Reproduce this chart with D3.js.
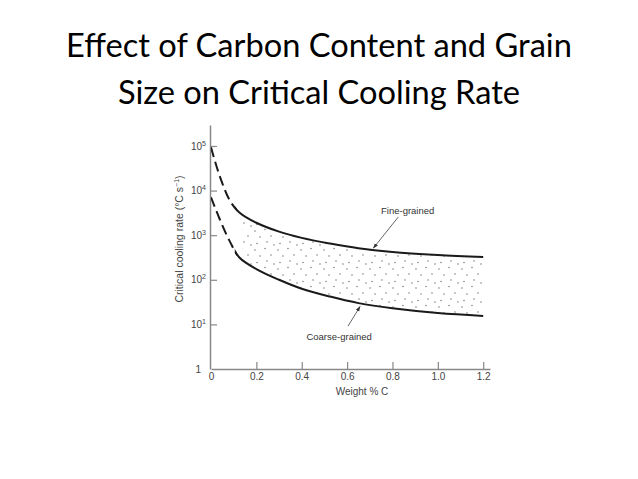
<!DOCTYPE html>
<html>
<head>
<meta charset="utf-8">
<script src="https://cdn.jsdelivr.net/npm/d3@7"></script>
<style>
  html, body { margin: 0; padding: 0; background: #fff; }
  svg { display: block; }
</style>
</head>
<body>
<div id="chart"></div>
<script>
// carbon content (weight % C) and critical cooling rate (deg C per s)
var carbon = [0, 0.04, 0.085, 0.125, 0.2, 0.3, 0.4, 0.525, 0.65, 0.8, 1.0, 1.2];
var fineRate = [93000, 20000, 5750, 3240, 1900, 1200, 870, 650, 510, 420, 360, 325];
var coarseRate = [7080, 2190, 690, 316, 174, 100, 63, 42, 30, 23, 18, 15.5];
var xTicks = [0, 0.2, 0.4, 0.6, 0.8, 1.0, 1.2];
var yTicks = [1, 10, 100, 1000, 10000, 100000];
var titleLines = ["Effect of Carbon Content and Grain", "Size on Critical Cooling Rate"];

(function () {
    var W = 638, H = 479;
    var dashedUntil = 0.105;  // curves are dashed (extrapolated) below this carbon content
    var stippleFrom = 0.14;

    var svg = d3.select("#chart").append("svg")
        .attr("width", W)
        .attr("height", H);

    //region title
    var title = svg.append("g")
        .attr("font-family", "Lato, 'Open Sans', sans-serif")
        .attr("fill", "#000")
        .attr("text-anchor", "middle");
    var t = title.selectAll("text")
        .data(titleLines)
        .enter().append("text")
        .attr("x", 319)
        .attr("y", function (d, i) { return 57 + i * 47; })
        .attr("font-size", 34)
        .text(function (d) { return d; });
    var w0 = t.node().getComputedTextLength();
    t.attr("font-size", 34 * 506 / w0);
    //endregion

    var x = d3.scaleLinear().domain([0, 1.23]).range([211, 490]);
    var y = d3.scaleLog().domain([1, Math.pow(10, 5.47)]).range([369, 125]);
    var curve = d3.curveCatmullRom.alpha(0.5);

    var defs = svg.append("defs");
    var pat = defs.append("pattern")
        .attr("id", "stipple")
        .attr("patternUnits", "userSpaceOnUse")
        .attr("width", 23)
        .attr("height", 19);
    [[2, 3], [12, 1.5], [7, 9], [18, 8], [4, 15.5], [14, 14], [21, 17]].forEach(function (p) {
        pat.append("circle")
            .attr("cx", p[0]).attr("cy", p[1]).attr("r", 0.7)
            .attr("fill", "#666");
    });

    var clip = function (id, x0, x1) {
        defs.append("clipPath").attr("id", id)
            .append("rect")
            .attr("x", x(x0)).attr("y", 0)
            .attr("width", x(x1) - x(x0) + 2).attr("height", H);
    };
    clip("clipDash", 0, dashedUntil);
    clip("clipSolid", dashedUntil, 1.2);
    clip("clipBand", stippleFrom, 1.2);

    var pts = function (vals) {
        return carbon.map(function (c, i) { return [c, vals[i]]; });
    };

    // stippled band between the two curves
    var area = d3.area()
        .x(function (d, i) { return x(carbon[i]); })
        .y0(function (d, i) { return y(coarseRate[i]); })
        .y1(function (d, i) { return y(fineRate[i]); })
        .curve(curve);
    svg.append("path")
        .datum(carbon)
        .attr("d", area)
        .attr("fill", "url(#stipple)")
        .attr("clip-path", "url(#clipBand)");

    //region axes
    var xAxis = d3.axisBottom(x)
        .tickValues(xTicks)
        .tickSizeInner(-7)
        .tickSizeOuter(0)
        .tickPadding(4)
        .tickFormat(function (d) { return d === 0 ? "0" : d3.format(".1f")(d); });
    var gx = svg.append("g")
        .attr("transform", "translate(0,369)")
        .call(xAxis);

    var yAxis = d3.axisLeft(y)
        .tickValues(yTicks)
        .tickSizeInner(-7)
        .tickSizeOuter(0)
        .tickPadding(4)
        .tickFormat(function () { return ""; });
    var gy = svg.append("g")
        .attr("transform", "translate(210,0)")
        .call(yAxis);

    gy.selectAll(".tick text").each(function (d) {
        var txt = d3.select(this);
        var p = Math.round(Math.log10(d));
        if (p === 0) {
            txt.text("1").attr("x", -9);
        } else {
            txt.append("tspan").text("10");
            txt.append("tspan").attr("font-size", 7).attr("dy", -4).text(p);
        }
    });

    [gx, gy].forEach(function (g) {
        g.attr("font-family", "'Liberation Sans', Arial, sans-serif")
            .attr("font-size", 10);
        g.select(".domain").attr("stroke", "#888").attr("stroke-width", 1.5);
        g.selectAll(".tick line").attr("stroke", "#888").attr("stroke-width", 1.2);
        g.selectAll(".tick text").attr("fill", "#444");
    });
    gx.selectAll(".tick").filter(function (d) { return d === 0; }).select("line").remove();
    gy.selectAll(".tick").filter(function (d) { return d === 1; }).select("line").remove();

    var yLabel = svg.append("text")
        .attr("transform", "translate(183,239) rotate(-90)")
        .attr("text-anchor", "middle")
        .attr("font-family", "'Liberation Sans', Arial, sans-serif")
        .attr("font-size", 10.5)
        .attr("fill", "#444");
    yLabel.append("tspan").text("Critical cooling rate (\u00B0C s");
    yLabel.append("tspan").attr("font-size", 7).attr("dy", -4).text("\u22121");
    yLabel.append("tspan").attr("dy", 4).text(")");

    svg.append("text")
        .attr("x", 362)
        .attr("y", 395)
        .attr("text-anchor", "middle")
        .attr("font-family", "'Liberation Sans', Arial, sans-serif")
        .attr("font-size", 10)
        .attr("fill", "#444")
        .text("Weight % C");
    //endregion

    //region curves
    var line = d3.line()
        .x(function (d) { return x(d[0]); })
        .y(function (d) { return y(d[1]); })
        .curve(curve);

    [fineRate, coarseRate].forEach(function (vals) {
        svg.append("path")
            .datum(pts(vals))
            .attr("d", line)
            .attr("fill", "none")
            .attr("stroke", "#1a1a1a")
            .attr("stroke-width", 2)
            .attr("stroke-dasharray", "10,5")
            .attr("clip-path", "url(#clipDash)");
        svg.append("path")
            .datum(pts(vals))
            .attr("d", line)
            .attr("fill", "none")
            .attr("stroke", "#1a1a1a")
            .attr("stroke-width", 2)
            .attr("clip-path", "url(#clipSolid)");
    });
    //endregion

    //region labels with leader arrows
    defs.append("marker")
        .attr("id", "arrow")
        .attr("viewBox", "0 0 10 10")
        .attr("refX", 9).attr("refY", 5)
        .attr("markerWidth", 6).attr("markerHeight", 6)
        .attr("orient", "auto")
        .append("path")
        .attr("d", "M0,1.5L10,5L0,8.5Z")
        .attr("fill", "#333");

    var notes = [
        {text: "Fine-grained", at: [0.867, 3.54], from: [0.826, 3.41], to: [0.716, 2.71]},
        {text: "Coarse-grained", at: [0.565, 0.72], from: [0.604, 0.96], to: [0.657, 1.40]}
    ];
    notes.forEach(function (n) {
        svg.append("line")
            .attr("x1", x(n.from[0])).attr("y1", y(Math.pow(10, n.from[1])))
            .attr("x2", x(n.to[0])).attr("y2", y(Math.pow(10, n.to[1])))
            .attr("stroke", "#555")
            .attr("stroke-width", 0.9)
            .attr("marker-end", "url(#arrow)");
        svg.append("text")
            .attr("x", x(n.at[0]))
            .attr("y", y(Math.pow(10, n.at[1])))
            .attr("dy", "0.35em")
            .attr("text-anchor", "middle")
            .attr("font-family", "'Liberation Sans', Arial, sans-serif")
            .attr("font-size", 9.5)
            .attr("fill", "#333")
            .text(n.text);
    });
    //endregion
})();
</script>
</body>
</html>
